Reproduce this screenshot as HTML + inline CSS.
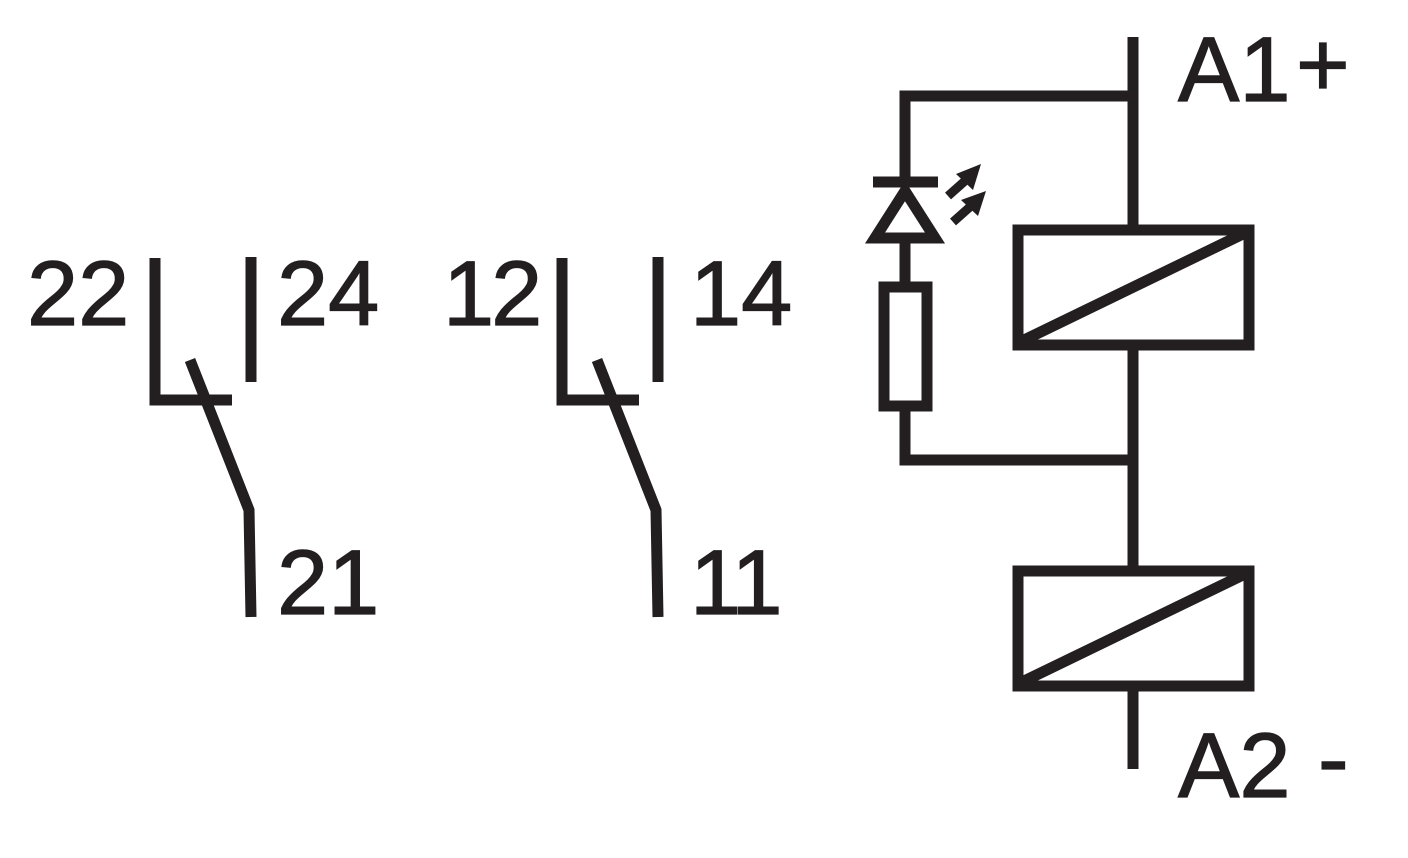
<!DOCTYPE html>
<html><head><meta charset="utf-8"><style>
html,body{margin:0;padding:0;background:#fff}
svg{display:block}
text{font-family:"Liberation Sans",Arial,sans-serif;font-size:92px;fill:#231f20;stroke:#231f20;stroke-width:1.2}
</style></head><body>
<svg width="1408" height="858" viewBox="0 0 1408 858" xmlns="http://www.w3.org/2000/svg">
<g stroke="#231f20" stroke-width="11" fill="none" stroke-linecap="butt">
<polyline points="155,258 155,400 232,400"/>
<line x1="251" y1="257" x2="251" y2="382"/>
<polyline points="190,360 249,510 251,617"/>
<polyline points="562,258 562,400 639,400"/>
<line x1="658" y1="257" x2="658" y2="382"/>
<polyline points="597,360 656,510 658,617"/>
<line x1="1133" y1="37" x2="1133" y2="230"/>
<line x1="1133" y1="345" x2="1133" y2="571"/>
<line x1="1133" y1="686" x2="1133" y2="769"/>
<polyline points="1133,96 905,96 905,182"/>
<line x1="873" y1="182" x2="938" y2="182"/>
<polygon points="905,191 875,238 935,238"/>
<line x1="905" y1="240" x2="905" y2="285"/>
<rect x="884" y="287" width="43" height="119"/>
<polyline points="905,406 905,460 1133,460"/>
<line x1="948" y1="196" x2="966" y2="180" stroke-width="9"/>
<line x1="953" y1="222" x2="971" y2="206" stroke-width="9"/>
<rect x="1018" y="230" width="231" height="115"/>
<line x1="1020" y1="342" x2="1247" y2="232"/>
<rect x="1018" y="571" width="231" height="115"/>
<line x1="1020" y1="683" x2="1247" y2="573"/>
</g>
<g fill="#231f20">
<polygon points="981,164 956,174 973,190"/>
<polygon points="986,191 961,200 978,216"/>
</g>
<text x="27" y="325">22</text>
<text x="277" y="325">24</text>
<text x="443" y="325" letter-spacing="-3">12</text>
<text x="690" y="325">14</text>
<text x="277" y="614">21</text>
<text x="690" y="614" letter-spacing="-3">11</text>
<text x="1178" y="101">A1</text>
<text x="1296" y="96" font-size="110">+</text>
<text x="1178" y="797">A2</text>
<text x="1318" y="790">-</text>
</svg>
</body></html>
